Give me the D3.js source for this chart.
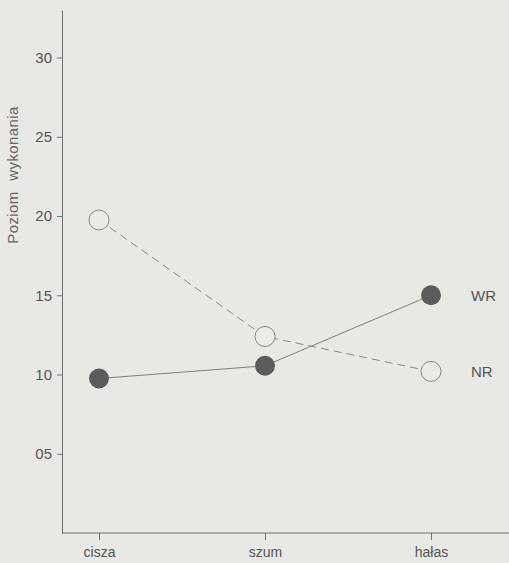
<!DOCTYPE html>
<html>
<head>
<meta charset="utf-8">
<script src="https://cdn.jsdelivr.net/npm/d3@7"></script>
<style>
  body { margin: 0; background: #e8e8e5; }
  svg { display: block; font-family: "Liberation Sans", Arial, sans-serif; }
</style>
</head>
<body>
<div id="chart"></div>
<script>
// data
var conditions = ["cisza", "szum", "hałas"];
var wrValues = [9.75, 10.55, 15.0];
var nrValues = [19.75, 12.4, 10.2];
var yTicks = [5, 10, 15, 20, 25, 30];
var seriesNames = ["WR", "NR"];

// svg container
var svgWidth = 509;
var svgHeight = 563;

var margin = { top: 10, right: 0, bottom: 30, left: 62 };
var chartWidth = svgWidth - margin.left - margin.right;
var chartHeight = svgHeight - margin.top - margin.bottom;

var svg = d3.select("#chart").append("svg")
  .attr("width", svgWidth)
  .attr("height", svgHeight);

svg.append("rect")
  .attr("width", svgWidth)
  .attr("height", svgHeight)
  .attr("fill", "#e8e8e5");

var chartGroup = svg.append("g")
  .attr("transform", `translate(${margin.left}, ${margin.top})`);

// scales
var xScale = d3.scalePoint()
  .domain(conditions)
  .range([37, 369]);

var yScale = d3.scaleLinear()
  .domain([0, 33])
  .range([chartHeight, 0]);

// axes
var yAxis = d3.axisLeft(yScale)
  .tickValues(yTicks)
  .tickFormat(d3.format("02d"))
  .tickSize(5)
  .tickPadding(5)
  .tickSizeOuter(0);

var xAxis = d3.axisBottom(xScale)
  .tickSize(7)
  .tickSizeOuter(0);

var yAxisG = chartGroup.append("g").call(yAxis);
var xAxisG = chartGroup.append("g")
  .attr("transform", `translate(0, ${chartHeight})`)
  .call(xAxis);

xAxisG.select(".domain").remove();
chartGroup.append("line")
  .attr("x1", 0).attr("x2", chartWidth)
  .attr("y1", chartHeight).attr("y2", chartHeight)
  .attr("stroke", "#6f6f6f");

[yAxisG, xAxisG].forEach(function(g) {
  g.selectAll("path, line").attr("stroke", "#6f6f6f");
  g.selectAll("text")
    .attr("fill", "#555")
    .style("font-size", "15px");
});
xAxisG.selectAll("text")
  .style("font-size", "14px")
  .attr("y", 14)
  .attr("dy", "0.71em");

// y label
chartGroup.append("text")
  .attr("transform", "rotate(-90)")
  .attr("x", -165)
  .attr("y", -49)
  .attr("dy", "0.35em")
  .attr("text-anchor", "middle")
  .attr("fill", "#666")
  .style("font-size", "15px")
  .style("word-spacing", "6px")
  .style("letter-spacing", "0.4px")
  .text("Poziom wykonania");

// lines
var line = d3.line()
  .x(function(d, i) { return xScale(conditions[i]); })
  .y(function(d) { return yScale(d); });

chartGroup.append("path")
  .datum(nrValues)
  .attr("d", line)
  .attr("fill", "none")
  .attr("stroke", "#8a8a8a")
  .attr("stroke-width", 1)
  .attr("stroke-dasharray", "8,5");

chartGroup.append("path")
  .datum(wrValues)
  .attr("d", line)
  .attr("fill", "none")
  .attr("stroke", "#808080")
  .attr("stroke-width", 1);

// points
chartGroup.selectAll(".nr")
  .data(nrValues)
  .enter()
  .append("circle")
  .attr("class", "nr")
  .attr("cx", function(d, i) { return xScale(conditions[i]); })
  .attr("cy", function(d) { return yScale(d); })
  .attr("r", 10)
  .attr("fill", "#ebebe8")
  .attr("stroke", "#888")
  .attr("stroke-width", 1);

chartGroup.selectAll(".wr")
  .data(wrValues)
  .enter()
  .append("circle")
  .attr("class", "wr")
  .attr("cx", function(d, i) { return xScale(conditions[i]); })
  .attr("cy", function(d) { return yScale(d); })
  .attr("r", 10)
  .attr("fill", "#5b5b5b");

// series labels
var lastValues = [wrValues[2], nrValues[2]];
chartGroup.selectAll(".serieslabel")
  .data(seriesNames)
  .enter()
  .append("text")
  .attr("class", "serieslabel")
  .attr("x", xScale(conditions[2]) + 40)
  .attr("y", function(d, i) { return yScale(lastValues[i]); })
  .attr("dy", "0.35em")
  .attr("fill", "#555")
  .style("font-size", "15px")
  .text(function(d) { return d; });
</script>
</body>
</html>
